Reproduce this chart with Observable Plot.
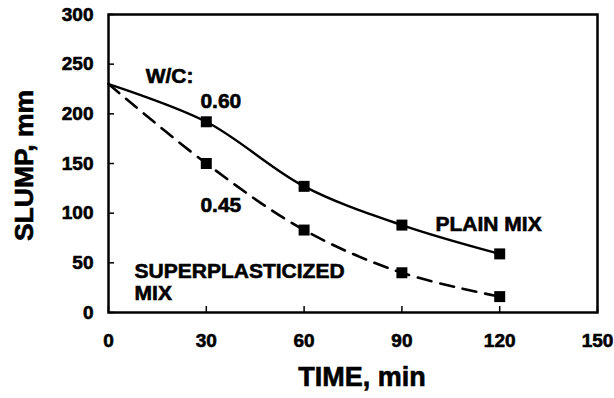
<!DOCTYPE html>
<html><head><meta charset="utf-8">
<script src="https://cdn.jsdelivr.net/npm/d3@7"></script>
<script src="https://cdn.jsdelivr.net/npm/@observablehq/plot@0.6"></script>
<style>
body{margin:0;background:#fff}
#chart svg{font-family:"Liberation Sans",Arial,sans-serif;font-weight:bold}
#chart svg text{stroke:#000;stroke-width:0.6px}
</style>
</head><body><div id="chart"></div>
<script>
const times = [0, 30, 60, 90, 120];
const plainSlump = [230, 192, 127, 88, 59];
const superSlump = [230, 150, 83, 40, 16];
const xTicks = [0, 30, 60, 90, 120, 150];
const yTicks = [0, 50, 100, 150, 200, 250, 300];
const labelTexts = ["W/C:", "0.60", "0.45", "PLAIN MIX", "SUPERPLASTICIZED", "MIX"];
const labelX = [11.4, 28.2, 28.2, 100.3, 8, 8];
const labelY = [231.5, 205.4, 101, 82.5, 35.2, 12.1];
const xTitle = "TIME, min";
const yTitle = "SLUMP, mm";

const plain = times.map((t, i) => ({t, v: plainSlump[i]}));
const sup = times.map((t, i) => ({t, v: superSlump[i]}));
const labels = labelTexts.map((s, i) => ({s, x: labelX[i], y: labelY[i]}));

const chart = Plot.plot({
  width: 614, height: 398,
  marginLeft: 108, marginRight: 17, marginTop: 14, marginBottom: 86,
  style: {background: "#fff", color: "#000", fontSize: "19px"},
  x: {domain: [0, 150]},
  y: {domain: [0, 300]},
  marks: [
    Plot.frame({stroke: "#000", strokeWidth: 2.5}),
    Plot.axisX(xTicks, {tickSize: -6, tickPadding: 27, strokeWidth: 1.5, label: null, fontSize: 19}),
    Plot.axisY(yTicks, {tickSize: -6, tickPadding: 21, strokeWidth: 1.5, label: null, fontSize: 19}),
    Plot.line(plain, {x: "t", y: "v", curve: "catmull-rom", stroke: "#000", strokeWidth: 2.4}),
    Plot.line(sup, {x: "t", y: "v", curve: "catmull-rom", stroke: "#000", strokeWidth: 2.6, strokeDasharray: "14,9"}),
    Plot.dot(plain.filter(d => d.t > 0), {x: "t", y: "v", symbol: "square", r: 6.2, fill: "#000", stroke: null}),
    Plot.dot(sup.filter(d => d.t > 0), {x: "t", y: "v", symbol: "square", r: 6.2, fill: "#000", stroke: null}),
    Plot.text(labels, {x: "x", y: "y", text: "s", textAnchor: "start", lineAnchor: "bottom", fontSize: 21, fill: "#000"}),
    Plot.text([xTitle], {text: d => d, frameAnchor: "bottom", textAnchor: "middle", dx: 9, dy: 73, lineAnchor: "bottom", fontSize: 27, fill: "#000"}),
    Plot.text([yTitle], {text: d => d, frameAnchor: "left", textAnchor: "middle", rotate: -90, dx: -76, dy: 2, lineAnchor: "bottom", fontSize: 26.5, fill: "#000"})
  ]
});
document.getElementById("chart").append(chart);
</script>
</body></html>
